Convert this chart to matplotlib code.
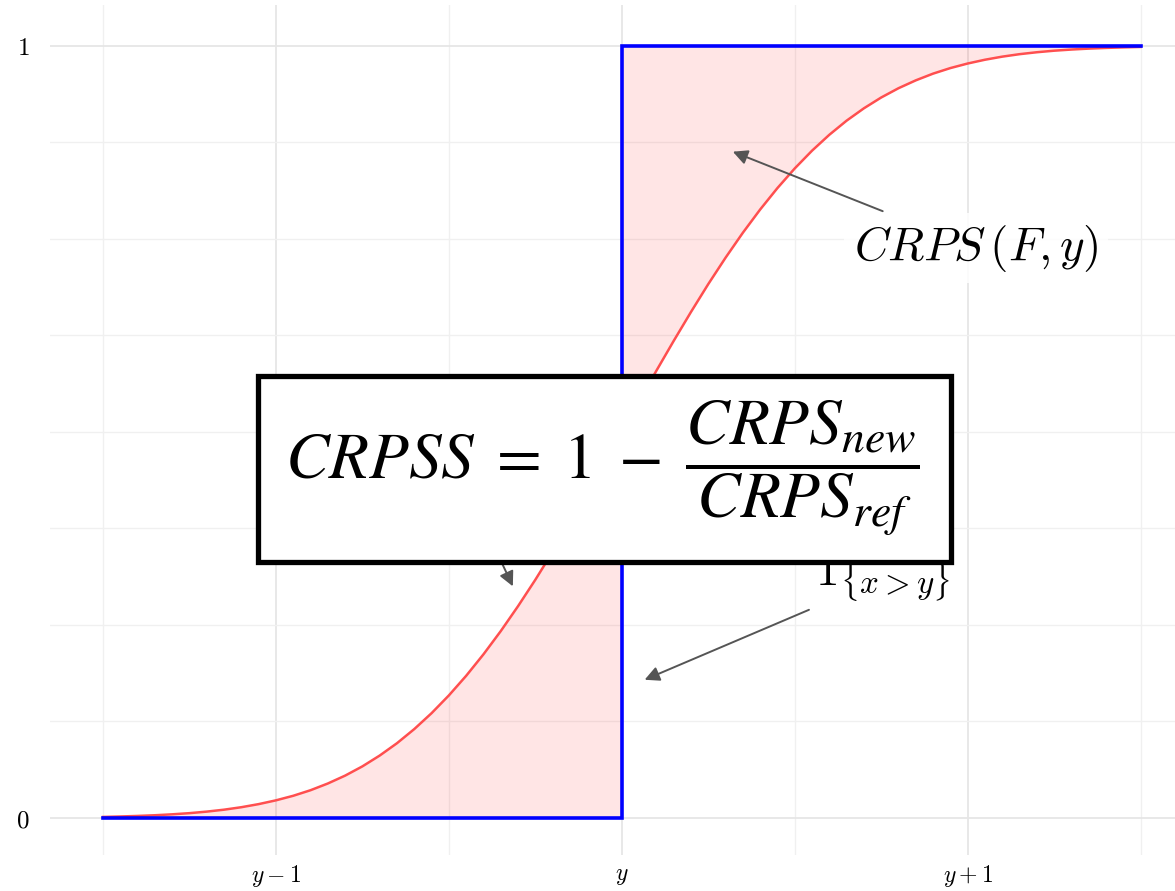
import matplotlib.pyplot as plt
import numpy as np
from matplotlib.patches import Rectangle

plt.rcParams["mathtext.fontset"] = "cm"

x_vals = [-1.50, -1.45, -1.40, -1.35, -1.30, -1.25, -1.20, -1.15, -1.10, -1.05,
          -1.00, -0.95, -0.90, -0.85, -0.80, -0.75, -0.70, -0.65, -0.60, -0.55,
          -0.50, -0.45, -0.40, -0.35, -0.30, -0.25, -0.20, -0.15, -0.10, -0.05,
          0.00, 0.05, 0.10, 0.15, 0.20, 0.25, 0.30, 0.35, 0.40, 0.45,
          0.50, 0.55, 0.60, 0.65, 0.70, 0.75, 0.80, 0.85, 0.90, 0.95,
          1.00, 1.05, 1.10, 1.15, 1.20, 1.25, 1.30, 1.35, 1.40, 1.45, 1.50]
cdf_vals = [0.0013, 0.0019, 0.0026, 0.0035, 0.0047, 0.0062, 0.0082, 0.0107, 0.0139, 0.0179,
            0.0228, 0.0287, 0.0359, 0.0446, 0.0548, 0.0668, 0.0808, 0.0968, 0.1151, 0.1357,
            0.1587, 0.1841, 0.2119, 0.2420, 0.2743, 0.3085, 0.3446, 0.3821, 0.4207, 0.4602,
            0.5000, 0.5398, 0.5793, 0.6179, 0.6554, 0.6915, 0.7257, 0.7580, 0.7881, 0.8159,
            0.8413, 0.8643, 0.8849, 0.9032, 0.9192, 0.9332, 0.9452, 0.9554, 0.9641, 0.9713,
            0.9772, 0.9821, 0.9861, 0.9893, 0.9918, 0.9938, 0.9953, 0.9965, 0.9974, 0.9981, 0.9987]
# observation step 1{x>y}
step_x = [-1.5, 0.0, 0.0, 1.5]
step_y = [0, 0, 1, 1]

xticks = [-1, 0, 1]
xlabels = ["$y-1$", "$y$", "$y+1$"]
yticks = [0, 1]
ylabels = ["$0$", "$1$"]

x = np.array(x_vals)
F = np.array(cdf_vals)

fig = plt.figure(figsize=(11.75, 8.91), dpi=100)
ax = fig.add_axes([0.0426, 0.0404, 0.957, 0.954])

left = x <= 0
right = x >= 0
ax.fill_between(x[left], 0, F[left], color="red", alpha=0.1, lw=0, zorder=2)
ax.fill_between(x[right], F[right], 1, color="red", alpha=0.1, lw=0, zorder=2)
ax.plot(x, F, color="#ff4f4f", lw=1.8, zorder=3)
ax.plot(step_x, step_y, color="#0000ff", lw=2.6, zorder=4, solid_joinstyle="miter")

ax.set_xlim(-1.653, 1.598)
ax.set_ylim(-0.048, 1.053)
ax.set_xticks(xticks)
ax.set_xticklabels(xlabels, fontsize=17)
ax.set_yticks(yticks)
ax.set_yticklabels(ylabels, fontsize=18)
ax.set_xticks([-1.5, -0.5, 0.5, 1.5], minor=True)
ax.set_yticks([0.125, 0.25, 0.375, 0.5, 0.625, 0.75, 0.875], minor=True)
ax.tick_params(which="both", length=0)
ax.tick_params(axis="x", pad=6)
ax.tick_params(axis="y", pad=15)
ax.grid(which="major", color="#e6e6e6", lw=1.3, zorder=0)
ax.grid(which="minor", color="#f0f0f0", lw=1.0, zorder=0)
for s in ax.spines.values():
    s.set_visible(False)

arrow = dict(arrowstyle="-|>", color="#555555", lw=1.4, mutation_scale=22,
             shrinkA=4, shrinkB=0)
ax.annotate("$CRPS\\,(F,y)$", xy=(0.321, 0.863), xytext=(0.67, 0.738),
            fontsize=34, ha="left", va="center", arrowprops=arrow, zorder=5,
            bbox=dict(boxstyle="square,pad=0.2", fc="white", ec="none", alpha=0.85))
ax.annotate("$1_{\\{x>y\\}}$", xy=(0.066, 0.179), xytext=(0.558, 0.31),
            fontsize=34, ha="left", va="center", arrowprops=arrow, zorder=5)
# third arrow, its label sits under the formula box
ax.annotate("", xy=(-0.315, 0.30), xytext=(-0.42, 0.40), arrowprops=arrow, zorder=5)

# CRPSS formula box on top
fig.patches.append(Rectangle((0.2196, 0.3692), 0.5898, 0.2088, transform=fig.transFigure,
                             fc="white", ec="black", lw=3.8, zorder=10))
fig.text(0.513, 0.474, r"$CRPSS\;=\;1\;-\;\dfrac{CRPS_{new}}{CRPS_{ref}}$",
         fontsize=47, ha="center", va="center", zorder=11, math_fontfamily="stix")

fig.savefig("out.png", dpi=100)
